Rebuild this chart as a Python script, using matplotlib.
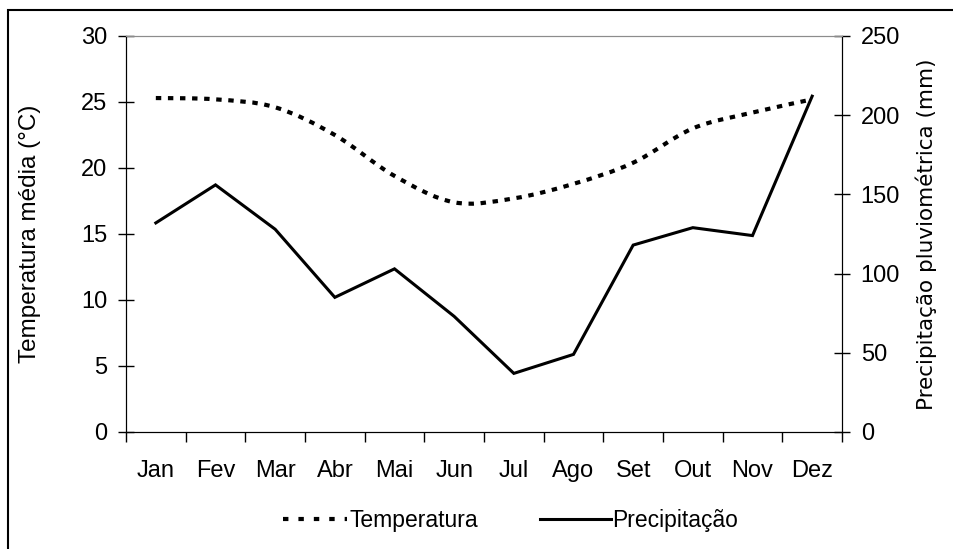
import numpy as np
import matplotlib
matplotlib.use("Agg")
import matplotlib.pyplot as plt
from matplotlib.path import Path
from matplotlib.patches import PathPatch, Rectangle
from matplotlib.lines import Line2D

meses = ["Jan", "Fev", "Mar", "Abr", "Mai", "Jun", "Jul", "Ago", "Set", "Out", "Nov", "Dez"]
temperatura = [25.3, 25.2, 24.6, 22.5, 19.4, 17.4, 17.7, 18.8, 20.4, 23.0, 24.2, 25.2]
precipitacao = [132, 156, 128, 85, 103, 73, 37, 49, 118, 129, 124, 212]

plt.rcParams['font.family'] = ['Liberation Sans', 'DejaVu Sans']
plt.rcParams['font.size'] = 17

fig = plt.figure(figsize=(9.54, 5.49), dpi=100)
# moldura externa (só esquerda e topo aparecem)
fig.patches.append(Rectangle((8 / 954, -0.1), 1.2, 1 - 10 / 549 + 0.1, transform=fig.transFigure,
                             fill=False, edgecolor="black", lw=1.5))

ax = fig.add_axes([126 / 954, (549 - 432) / 549, 716 / 954, 396 / 549])
ax2 = ax.twinx()

x = np.arange(len(meses))

# curva suavizada da temperatura (estilo Excel, bezier)
pts = np.column_stack([x, temperatura]).astype(float)
verts = [tuple(pts[0])]
codes = [Path.MOVETO]
n = len(pts)
for i in range(n - 1):
    p0 = pts[i - 1] if i > 0 else pts[i]
    p1 = pts[i]
    p2 = pts[i + 1]
    p3 = pts[i + 2] if i + 2 < n else pts[i + 1]
    c1 = p1 + (p2 - p0) / 6
    c2 = p2 - (p3 - p1) / 6
    verts += [tuple(c1), tuple(c2), tuple(p2)]
    codes += [Path.CURVE4] * 3
dash = (0, (1.3, 1.6))
ax.add_patch(PathPatch(Path(verts, codes), fill=False, lw=3.0, linestyle=dash,
                       edgecolor="black", capstyle="butt"))

ax2.plot(x, precipitacao, color="black", lw=2.2, solid_joinstyle="miter")

ax.set_xlim(-0.5, 11.5)
ax.set_ylim(0, 30)
ax2.set_ylim(0, 250)
ax.set_yticks(range(0, 31, 5))
ax2.set_yticks(range(0, 251, 50))

ax.set_xticks(np.arange(-0.5, 12, 1))
ax.set_xticklabels([])
ax.set_xticks(x, minor=True)
ax.set_xticklabels(meses, minor=True)
ax.tick_params(axis="x", which="major", direction="out", length=7, width=1)
ax.tick_params(axis="x", which="minor", length=0, pad=20)
ax.tick_params(axis="y", direction="inout", length=11, width=1, pad=8)
ax2.tick_params(axis="y", direction="inout", length=11, width=1, pad=8)

for a in (ax, ax2):
    a.spines["top"].set_color("#8c8c8c")
    for s in ("left", "right", "bottom"):
        a.spines[s].set_color("black")

ax.set_ylabel("Temperatura média (°C)", fontsize=17.5, labelpad=29)
ax2.set_ylabel("Precipitação pluviométrica (mm)", family=["DejaVu Sans"], fontsize=15.5, labelpad=11)

h_temp = Line2D([], [], color="black", lw=3.0, linestyle=(0, (1.3, 2.4)))
h_prec = Line2D([], [], color="black", lw=2.2)
leg1 = fig.legend([h_temp], ["Temperatura"], loc="center left", bbox_to_anchor=(283 / 954, 28 / 549),
                  frameon=False, fontsize=16.5, handlelength=2.8, handletextpad=0.1,
                  borderpad=0, borderaxespad=0)
leg2 = fig.legend([h_prec], ["Precipitação"], loc="center left", bbox_to_anchor=(540 / 954, 28 / 549),
                  frameon=False, fontsize=16.5, handlelength=3.1, handletextpad=0.05,
                  borderpad=0, borderaxespad=0)

fig.savefig("out.png", dpi=100)
